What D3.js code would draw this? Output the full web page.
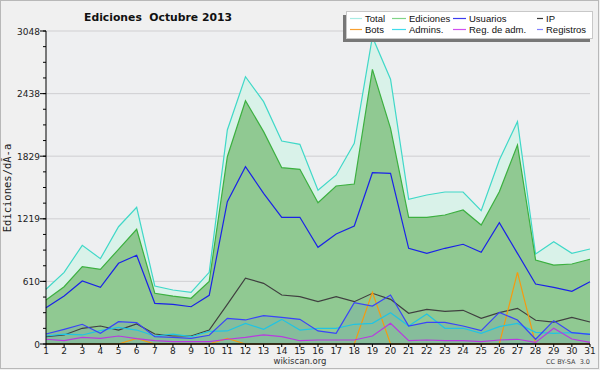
<!DOCTYPE html>
<html>
<head>
<meta charset="utf-8">
<script src="https://cdn.jsdelivr.net/npm/d3@7"></script>
<style>
  body { margin: 0; background: #f0f0f0; }
  svg { display: block; }
</style>
</head>
<body>
<div id="chart"></div>
<script>
// Daily values, October 2013
const days = d3.range(1, 32);
const total     = [533, 698, 961, 831, 1142, 1331, 565, 526, 503, 698, 2084, 2603, 2360, 1977, 1944, 1497, 1646, 1954, 2990, 2578, 1409, 1451, 1480, 1480, 1298, 1792, 2165, 876, 996, 883, 925];
const ediciones = [428, 558, 753, 727, 922, 1117, 494, 467, 445, 610, 1824, 2369, 2068, 1717, 1701, 1376, 1539, 1558, 2675, 2100, 1234, 1234, 1256, 1305, 1159, 1483, 1938, 818, 769, 779, 825];
const usuarios  = [354, 467, 613, 552, 786, 864, 396, 386, 363, 474, 1386, 1727, 1467, 1234, 1234, 942, 1071, 1149, 1668, 1662, 932, 883, 932, 971, 893, 1181, 883, 584, 552, 513, 607];
const ip        = [71, 88, 153, 175, 136, 195, 97, 78, 78, 136, 385, 640, 591, 477, 461, 412, 461, 412, 494, 435, 299, 338, 318, 328, 250, 305, 347, 231, 214, 260, 214];
const registros = [97, 143, 192, 104, 217, 208, 71, 65, 55, 85, 250, 234, 276, 260, 240, 127, 104, 402, 370, 477, 175, 211, 211, 175, 130, 308, 234, 46, 227, 110, 94];
const admins    = [78, 97, 88, 130, 162, 136, 78, 97, 71, 123, 127, 201, 143, 240, 136, 153, 153, 192, 201, 305, 175, 292, 153, 153, 104, 169, 201, 114, 104, 110, 97];
const regAdm    = [46, 32, 65, 55, 78, 52, 32, 23, 23, 23, 46, 65, 88, 71, 32, 39, 39, 39, 78, 201, 32, 39, 32, 32, 23, 39, 46, 16, 153, 49, 16];
const bots      = [0, 0, 0, 0, 0, 55, 0, 0, 0, 0, 55, 0, 0, 0, 0, 0, 0, 0, 503, 0, 0, 0, 0, 0, 0, 0, 698, 0, 0, 0, 0];
const yTicks = [0, 610, 1219, 1829, 2438, 3048];

const W = 600, H = 370;
const svg = d3.select('#chart').append('svg')
    .attr('width', W)
    .attr('height', H);

// frame
svg.append('rect')
    .attr('x', 0.5).attr('y', 0.5)
    .attr('width', W - 2).attr('height', H - 2)
    .attr('fill', '#f0f0f0')
    .attr('stroke', '#b8b8b8');

const x = d3.scaleLinear().domain([1, 31]).range([46, 590]);
const y = d3.scaleLinear().domain([0, 3048]).range([344, 31]);

// plot background
svg.append('rect')
    .attr('x', x(1)).attr('y', y(3048))
    .attr('width', x(31) - x(1)).attr('height', y(0) - y(3048))
    .attr('fill', '#eeeff1');

// grid
svg.append('g').selectAll('line')
    .data(yTicks.slice(1))
    .join('line')
    .attr('x1', x(1)).attr('x2', x(31))
    .attr('y1', d => y(d)).attr('y2', d => y(d))
    .attr('stroke', '#cfcfd2');

const line = d3.line().x((d, i) => x(days[i])).y(d => y(d));
const area = d3.area().x((d, i) => x(days[i])).y0(y(0)).y1(d => y(d));

// filled series
svg.append('path').datum(total).attr('d', area).attr('fill', '#d9f2e9');
svg.append('path').datum(ediciones).attr('d', area).attr('fill', '#90c992');
svg.append('path').datum(registros).attr('d', area).attr('fill', 'rgba(90,140,200,0.18)');

const series = [
    { values: total,     color: '#40d8c8' },
    { values: ediciones, color: '#3cb040' },
    { values: usuarios,  color: '#1a22e8' },
    { values: ip,        color: '#404040' },
    { values: bots,      color: '#f59a10' },
    { values: admins,    color: '#20c4e4' },
    { values: regAdm,    color: '#b83ae0' },
    { values: registros, color: '#3a44f8' }
];
series.forEach(s => {
    svg.append('path').datum(s.values)
        .attr('d', line)
        .attr('fill', 'none')
        .attr('stroke', s.color)
        .attr('stroke-width', 1.2);
});

// y axis
const yAxis = svg.append('g').attr('transform', `translate(${x(1)},0)`);
yAxis.append('line')
    .attr('y1', y(3048)).attr('y2', y(0))
    .attr('stroke', '#000');
yAxis.selectAll('.minor')
    .data(d3.range(0, 21).map(i => i * 152.4))
    .join('line')
    .attr('x1', -3).attr('x2', 0)
    .attr('y1', d => y(d)).attr('y2', d => y(d))
    .attr('stroke', '#000');
yAxis.selectAll('.major')
    .data(yTicks)
    .join('line')
    .attr('x1', -6).attr('x2', 0)
    .attr('y1', d => y(d)).attr('y2', d => y(d))
    .attr('stroke', '#000');
yAxis.selectAll('text')
    .data(yTicks)
    .join('text')
    .attr('x', -6).attr('y', d => y(d) + 3.5)
    .attr('text-anchor', 'end')
    .attr('font-family', 'DejaVu Sans')
    .attr('font-size', 9)
    .attr('fill', '#222')
    .text(d => d);

// x axis
const xAxis = svg.append('g').attr('transform', `translate(0,${y(0)})`);
xAxis.append('line')
    .attr('x1', x(1)).attr('x2', x(31))
    .attr('stroke', '#000').attr('stroke-width', 1.5);
xAxis.selectAll('line.tick')
    .data(days)
    .join('line')
    .attr('class', 'tick')
    .attr('x1', d => x(d)).attr('x2', d => x(d))
    .attr('y1', 0).attr('y2', 3)
    .attr('stroke', '#000');
xAxis.selectAll('text')
    .data(days)
    .join('text')
    .attr('x', d => x(d)).attr('y', 10)
    .attr('text-anchor', 'middle')
    .attr('font-family', 'DejaVu Sans')
    .attr('font-size', 9)
    .attr('fill', '#222')
    .text(d => d);

// titles
svg.append('text')
    .attr('x', 158).attr('y', 21)
    .attr('text-anchor', 'middle')
    .attr('font-family', 'DejaVu Sans')
    .attr('font-weight', 'bold')
    .attr('font-size', 10.8)
    .attr('fill', '#111')
    .attr('xml:space', 'preserve')
    .text('Ediciones  Octubre 2013');

svg.append('text')
    .attr('transform', 'translate(11,188) rotate(-90)')
    .attr('text-anchor', 'middle')
    .attr('font-family', 'DejaVu Sans Mono')
    .attr('font-size', 10.5)
    .attr('fill', '#222')
    .text('Ediciones/dÃ-a');

svg.append('text')
    .attr('x', 300).attr('y', 364)
    .attr('text-anchor', 'middle')
    .attr('font-family', 'DejaVu Sans')
    .attr('font-size', 8.5)
    .attr('fill', '#333')
    .text('wikiscan.org');

svg.append('text')
    .attr('x', 590).attr('y', 364)
    .attr('text-anchor', 'end')
    .attr('font-family', 'DejaVu Sans')
    .attr('font-size', 6.5)
    .attr('fill', '#444')
    .attr('xml:space', 'preserve')
    .text('CC BY-SA  3.0');

// legend
const legendItems = [
    { name: 'Total',        color: '#a8ece4', col: 0, row: 0 },
    { name: 'Ediciones',    color: '#80d488', col: 1, row: 0 },
    { name: 'Usuarios',     color: '#3c3cf0', col: 2, row: 0 },
    { name: 'IP',           color: '#3a3a3a', col: 3, row: 0 },
    { name: 'Bots',         color: '#f8a030', col: 0, row: 1 },
    { name: 'Admins.',      color: '#40dcec', col: 1, row: 1 },
    { name: 'Reg. de adm.', color: '#d050f0', col: 2, row: 1 },
    { name: 'Registros',    color: '#8080ff', col: 3, row: 1 }
];
const colX = [350, 392, 453, 537];
const colLen = [12, 14, 13, 6];
const legend = svg.append('g');
legend.append('rect')
    .attr('x', 343).attr('y', 15)
    .attr('width', 247).attr('height', 27)
    .attr('fill', '#777');
legend.append('rect')
    .attr('x', 346.5).attr('y', 11.5)
    .attr('width', 246).attr('height', 27)
    .attr('fill', '#fff')
    .attr('stroke', '#c8c8c8');
const li = legend.selectAll('g.item')
    .data(legendItems)
    .join('g')
    .attr('class', 'item')
    .attr('transform', d => `translate(${colX[d.col]},${18.5 + d.row * 11})`);
li.append('line')
    .attr('x1', 0).attr('x2', d => colLen[d.col])
    .attr('y1', 0).attr('y2', 0)
    .attr('stroke', d => d.color)
    .attr('stroke-width', 1.2);
li.append('text')
    .attr('x', d => colLen[d.col] + 3).attr('y', 3.5)
    .attr('font-family', 'Liberation Sans')
    .attr('font-size', 9.5)
    .attr('fill', '#111')
    .text(d => d.name);
</script>
</body>
</html>
